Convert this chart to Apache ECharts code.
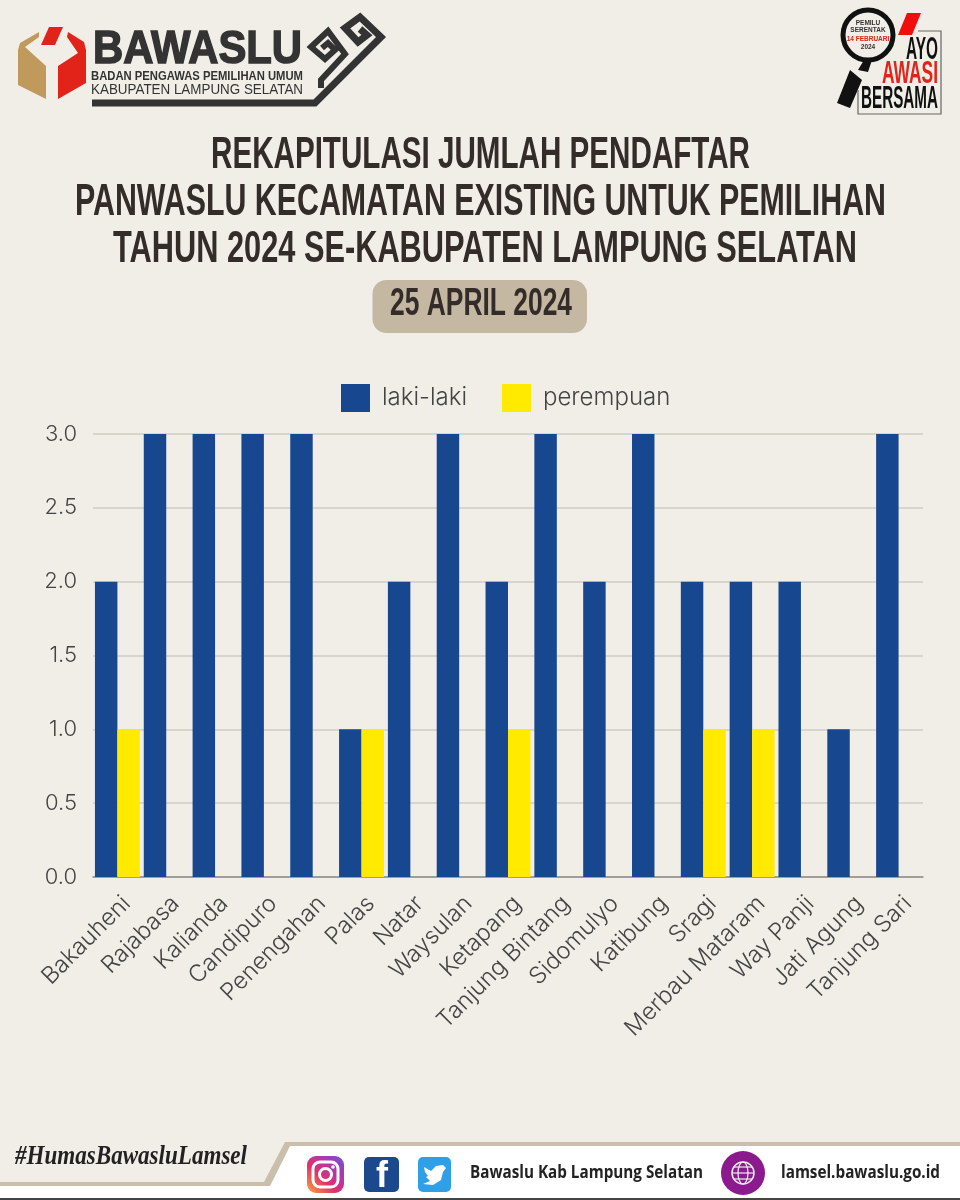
<!DOCTYPE html>
<html><head><meta charset="utf-8">
<style>html,body{margin:0;padding:0;background:#f1eee7}#c{width:960px;height:1200px}</style>
<script src="https://cdn.jsdelivr.net/npm/echarts@6/dist/echarts.min.js"></script>
</head><body><div id="c"></div>
<script>
const categories = ['Bakauheni','Rajabasa','Kalianda','Candipuro','Penengahan','Palas','Natar','Waysulan','Ketapang','Tanjung Bintang','Sidomulyo','Katibung','Sragi','Merbau Mataram','Way Panji','Jati Agung','Tanjung Sari'];
const lakiLaki  = [2,3,3,3,3,1,2,3,2,3,2,3,2,2,2,1,3];
const perempuan = [1,0,0,0,0,1,0,0,1,0,0,0,1,1,0,0,0];
const titleLines = ['REKAPITULASI JUMLAH PENDAFTAR','PANWASLU KECAMATAN EXISTING UNTUK PEMILIHAN','TAHUN 2024 SE-KABUPATEN LAMPUNG SELATAN'];
const dateLabel = '25 APRIL 2024';

const UI = 'Inter, Lato, "Noto Sans", sans-serif';
const COND = '"Liberation Sans Narrow", "Liberation Sans", sans-serif';
const mctx = document.createElement('canvas').getContext('2d');
function fit(text, x0, x1, yc, font, fill, extra){
  mctx.font = font;
  const w = mctx.measureText(text).width;
  const o = {type:'text', x:x0, y:yc, scaleX:(x1-x0)/w, silent:true,
    style:Object.assign({text, font, fill, textAlign:'left', textVerticalAlign:'middle'}, extra||{})};
  return o;
}
const poly = (points, fill) => ({type:'polygon', silent:true, shape:{points}, style:{fill}});
const line = (points, stroke, w) => ({type:'polyline', silent:true, shape:{points}, style:{stroke, lineWidth:w, fill:null, lineJoin:'miter'}});
const rrect = (x,y,w,h,r,fill) => ({type:'rect', silent:true, shape:{x,y,width:w,height:h,r}, style:{fill}});
const INK = '#332c29', LOGO = '#333333', RED = '#e2231a';
const igGrad = {type:'linear',x:0,y:1,x2:1,y2:0,colorStops:[{offset:0,color:'#f9a63a'},{offset:.4,color:'#e1306c'},{offset:.75,color:'#a03cb8'},{offset:1,color:'#6a5acd'}]};
const gfx = [
  // logo
  poly([[49,27],[63,27],[55,45],[41,45]], RED),
  poly([[39,32],[20,43],[18,50],[18,85],[46,99],[46,66],[25,47],[39,37]], '#bf9a5c'),
  poly([[68,32],[84,42],[86,50],[86,83],[58,99],[58,66],[78,53],[67,37]], RED),
  fit('BAWASLU',93,302,50,'900 47px "Liberation Sans"',LOGO,{stroke:LOGO,lineWidth:1.5}),
  fit('BADAN PENGAWAS PEMILIHAN UMUM',91,303,76.5,'bold 12px "Liberation Sans"',LOGO),
  fit('KABUPATEN LAMPUNG SELATAN',91,303,89.5,'15px "Liberation Sans"',LOGO),
  line([[92,103],[315,103],[381,37],[360,17],[345,28],[358,42],[367,35],[360,29]], LOGO, 7),
  line([[321,88],[321,80],[345,54],[328,31],[311,47],[325,59],[335,50],[328,43],[322,48]], LOGO, 6),
  // badge
  poly([[850,70],[862,80],[850,108],[837,103]], '#111'),
  {type:'circle',silent:true,shape:{cx:868,cy:35,r:25},style:{fill:'#f1eee7',stroke:'#111',lineWidth:5}},
  poly([[864,60],[872,60],[868,72],[858,70]], '#111'),
  {type:'text',silent:true,x:868,y:23,style:{text:'PEMILU',font:'bold 6.5px "Liberation Sans"',fill:'#333',textAlign:'center',textVerticalAlign:'middle'}},
  {type:'text',silent:true,x:868,y:30,style:{text:'SERENTAK',font:'bold 6.5px "Liberation Sans"',fill:'#333',textAlign:'center',textVerticalAlign:'middle'}},
  {type:'text',silent:true,x:868,y:39,style:{text:'14 FEBRUARI',font:'bold 6.5px "Liberation Sans"',fill:RED,textAlign:'center',textVerticalAlign:'middle'}},
  {type:'text',silent:true,x:868,y:47,style:{text:'2024',font:'bold 6.5px "Liberation Sans"',fill:'#333',textAlign:'center',textVerticalAlign:'middle'}},
  poly([[907,13],[921,13],[912,35],[898,35]], '#f00d0d'),
  line([[918,31],[941,31],[941,114],[858,114],[858,90]], '#666', 1.2),
  fit('AYO',906,938,50,'bold 31px '+COND,'#111'),
  fit('AWASI',882,938,74,'bold 31px '+COND,RED),
  fit('BERSAMA',861,938,99,'bold 31px '+COND,'#111'),
  // title
  fit(titleLines[0],211,750,156,'bold 45px '+COND,INK),
  fit(titleLines[1],75,886,203,'bold 45px '+COND,INK),
  fit(titleLines[2],113,857,250,'bold 45px '+COND,INK),
  rrect(372.5,280,214.5,53,14,'#c4b8a3'),
  fit(dateLabel,390,572,304.5,'bold 38px '+COND,INK),
  // footer
  poly([[285,1146],[960,1146],[960,1198],[0,1198],[0,1186],[268,1186]], '#ffffff'),
  poly([[285,1142],[960,1142],[960,1146],[290,1146],[270,1186],[0,1186],[0,1182],[264,1182]], '#c9bfab'),
  rrect(0,1198,960,2,0,'#444'),
  fit('#HumasBawasluLamsel',15,247,1157,'italic bold 28px "Liberation Serif"','#222'),
  rrect(307,1156,37,37,9,igGrad),
  {type:'rect',silent:true,shape:{x:313,y:1162,width:25,height:25,r:7},style:{fill:null,stroke:'#fff',lineWidth:3}},
  {type:'circle',silent:true,shape:{cx:325.5,cy:1174.5,r:6},style:{fill:null,stroke:'#fff',lineWidth:3}},
  {type:'circle',silent:true,shape:{cx:333,cy:1167,r:1.8},style:{fill:'#fff'}},
  rrect(364,1157,35,35,5,'#1a4a8d'),
  {type:'text',silent:true,x:382,y:1177,style:{text:'f',font:'bold 36px "Liberation Sans"',fill:'#fff',textAlign:'center',textVerticalAlign:'middle'}},
  rrect(418,1157,33,35,5,'#2f9fe8'),
  poly([[424,1167],[431,1171],[436,1166],[443,1165],[446,1168],[443,1172],[441,1180],[433,1185],[423,1184],[430,1181],[426,1177],[428,1176],[425,1172]], '#fff'),
  fit('Bawaslu Kab Lampung Selatan',470,703,1173,'bold 17px "Open Sans"','#222'),
  {type:'circle',silent:true,shape:{cx:743,cy:1173,r:22},style:{fill:'#8b1a8f'}},
  {type:'circle',silent:true,shape:{cx:743,cy:1173,r:11},style:{fill:null,stroke:'#eee',lineWidth:1.5}},
  {type:'ellipse',silent:true,shape:{cx:743,cy:1173,rx:5,ry:11},style:{fill:null,stroke:'#eee',lineWidth:1.2}},
  line([[732,1173],[754,1173]],'#eee',1.2),
  line([[734,1167],[752,1167]],'#eee',1.2),
  line([[734,1179],[752,1179]],'#eee',1.2),
  fit('lamsel.bawaslu.go.id',781,940,1173,'bold 17px "Open Sans"','#222')
];

const chart = echarts.init(document.getElementById('c'), null, {renderer:'canvas', width:960, height:1200});
chart.setOption({
  animation:false,
  backgroundColor:'#f1eee7',
  legend:{left:341, top:384, padding:0, itemWidth:29, itemHeight:28, itemGap:35, icon:'rect',
    data:['laki-laki','perempuan'],
    textStyle:{fontFamily:UI, fontWeight:300, fontSize:24, color:'#444', padding:[0,0,0,7]}},
  grid:{left:93, top:434, width:830, height:443, containLabel:false},
  xAxis:{type:'category', data:categories, boundaryGap:true,
    axisTick:{show:false}, axisLine:{lineStyle:{color:'#8f8c86',width:1.5}},
    axisLabel:{interval:0, rotate:45, fontFamily:UI, fontWeight:300, fontSize:23.5, color:'#444', margin:32, padding:[0,-13,0,0]}},
  yAxis:{type:'value', min:0, max:3, interval:0.5,
    axisLine:{show:false}, axisTick:{show:false},
    splitLine:{lineStyle:{color:'#cfccc4',width:1.5}},
    axisLabel:{fontFamily:UI, fontWeight:300, fontSize:22, color:'#444', margin:16, formatter:v=>v.toFixed(1)}},
  series:[
    {name:'laki-laki', type:'bar', data:lakiLaki, barGap:'0%', barCategoryGap:'8%', itemStyle:{color:'#17478f'}},
    {name:'perempuan', type:'bar', data:perempuan, itemStyle:{color:'#ffea00'}}
  ],
  graphic:{elements:gfx}
});
</script></body></html>
